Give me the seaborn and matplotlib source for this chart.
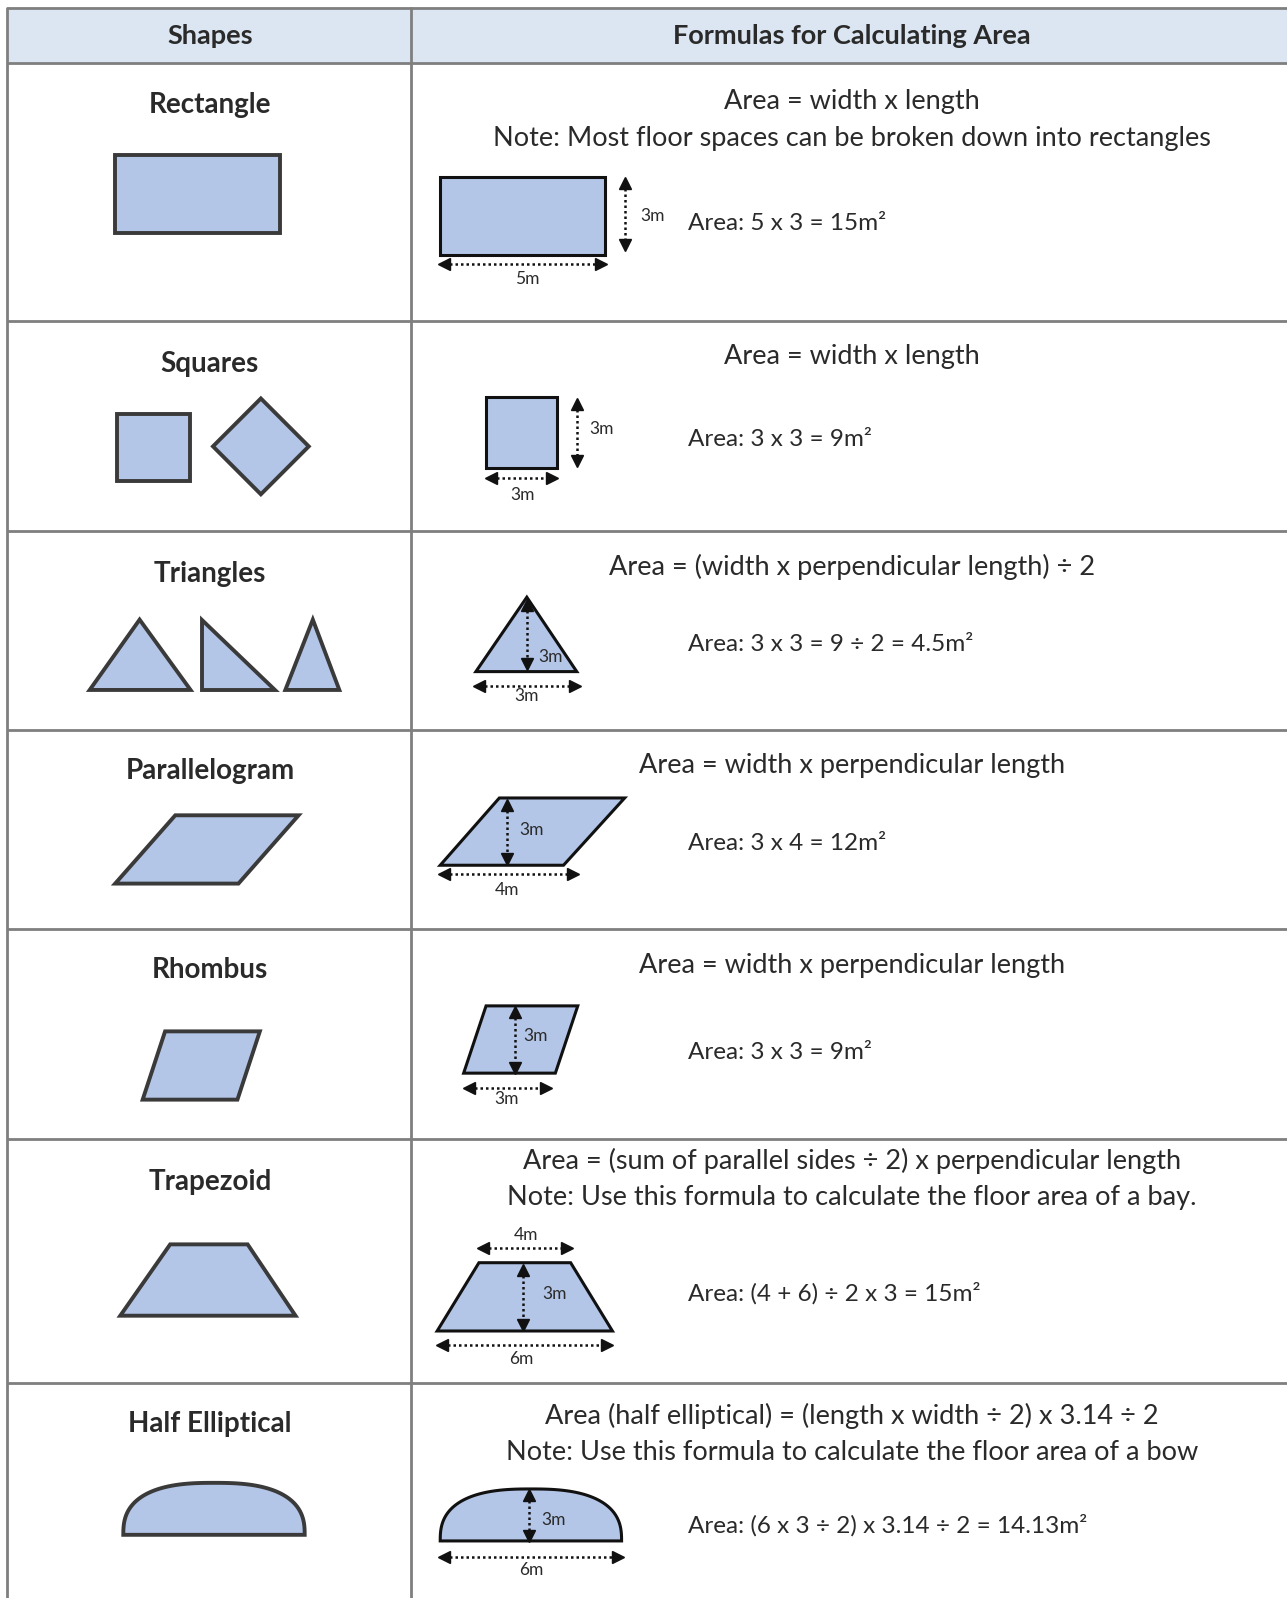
import numpy as np
import matplotlib
matplotlib.use("Agg")
import matplotlib.pyplot as plt
from matplotlib.patches import Polygon, Rectangle
import seaborn as sns

# ---------------- data ----------------
header = ["Shapes", "Formulas for Calculating Area"]
shapes = ["Rectangle", "Squares", "Triangles", "Parallelogram", "Rhombus",
          "Trapezoid", "Half Elliptical"]
formulas = [
    "Area = width x length",
    "Area = width x length",
    "Area = (width x perpendicular length) \u00f7 2",
    "Area = width x perpendicular length",
    "Area = width x perpendicular length",
    "Area = (sum of parallel sides \u00f7 2) x perpendicular length",
    "Area (half elliptical) = (length x width \u00f7 2) x 3.14 \u00f7 2",
]
notes = [
    "Note: Most floor spaces can be broken down into rectangles",
    "", "", "", "",
    "Note: Use this formula to calculate the floor area of a bay.",
    "Note: Use this formula to calculate the floor area of a bow",
]
examples = [
    "Area: 5 x 3 = 15m\u00b2",
    "Area: 3 x 3 = 9m\u00b2",
    "Area: 3 x 3 = 9 \u00f7 2 = 4.5m\u00b2",
    "Area: 3 x 4 = 12m\u00b2",
    "Area: 3 x 3 = 9m\u00b2",
    "Area: (4 + 6) \u00f7 2 x 3 = 15m\u00b2",
    "Area: (6 x 3 \u00f7 2) x 3.14 \u00f7 2 = 14.13m\u00b2",
]
width_labels = ["5m", "3m", "3m", "4m", "3m", "6m", "6m"]
height_labels = ["3m", "3m", "3m", "3m", "3m", "3m", "3m"]
top_labels = ["", "", "", "", "", "4m", ""]

# ---------------- style ----------------
sns.set_theme(style="white")
plt.rcParams['font.family'] = ['Lato', 'DejaVu Sans']

FILL = "#b4c6e7"
EDGE_L = "#3a3a3a"
EDGE_R = "#111111"
GRID = "#7f7f7f"
HEAD = "#dce6f2"
TXT = "#2a2a2a"

fig = plt.figure(figsize=(12.87, 15.98), dpi=100)
ax = fig.add_axes([0, 0, 1, 1])
ax.set_xlim(0, 1263)
ax.set_ylim(1568, 0)
ax.axis("off")

# table layout
L, R, T, HB, DIV = 7, 1263, 8, 62, 403
row_lines = [315, 521, 716, 912, 1118, 1357]
ax.add_patch(Rectangle((L, T), R - L, HB - T, facecolor=HEAD, edgecolor="none", zorder=0))
for y in [T, HB] + row_lines:
    ax.plot([L, R], [y, y], color=GRID, lw=2, zorder=1, solid_capstyle="butt")
ax.plot([L, L], [T, 1568], color=GRID, lw=2, zorder=1)
ax.plot([DIV, DIV], [T, 1568], color=GRID, lw=2, zorder=1)

ax.text(206, 35, header[0], ha="center", va="center", fontsize=19.5, fontweight="bold", color=TXT)
ax.text(836, 35, header[1], ha="center", va="center", fontsize=19.5, fontweight="bold", color=TXT)

title_y = [103, 357, 563, 757, 952, 1160, 1397]
form_y = [100, 350, 556, 751, 947, 1139, 1389]
note_y = [136, None, None, None, None, 1175, 1425]
ex_y = [219, 431, 632, 828, 1033, 1269, 1497]

for i in range(len(shapes)):
    ax.text(206, title_y[i], shapes[i], ha="center", va="center", fontsize=20,
            fontweight="bold", color=TXT)
    ax.text(836, form_y[i], formulas[i], ha="center", va="center", fontsize=19.5, color=TXT)
    if notes[i]:
        ax.text(836, note_y[i], notes[i], ha="center", va="center", fontsize=19.5, color=TXT)
    ax.text(675, ex_y[i], examples[i], ha="left", va="center", fontsize=17.5, color=TXT)


def poly(pts, left=True):
    ax.add_patch(Polygon(pts, closed=True, facecolor=FILL,
                         edgecolor=EDGE_L if left else EDGE_R,
                         lw=2.8 if left else 2.2, joinstyle="miter", zorder=3))


def dim(x0, y0, x1, y1, label, lx, ly, size=12.5):
    ax.plot([x0, x1], [y0, y1], color="#111111", lw=1.8, ls=(0, (1, 1.2)), zorder=4)
    if y0 == y1:
        ax.plot([x0], [y0], marker="<", color="#111111", ms=8, zorder=5)
        ax.plot([x1], [y1], marker=">", color="#111111", ms=8, zorder=5)
    else:
        ax.plot([x0], [y0], marker="^", color="#111111", ms=8, zorder=5)
        ax.plot([x1], [y1], marker="v", color="#111111", ms=8, zorder=5)
    ax.text(lx, ly, label, ha="center", va="center", fontsize=size, color=TXT, zorder=6)


# --- Rectangle ---
poly([(113, 152), (275, 152), (275, 229), (113, 229)])
poly([(432, 174), (594, 174), (594, 250), (432, 250)], left=False)
dim(613, 180, 613, 240, height_labels[0], 640, 212)
dim(436, 259, 590, 259, width_labels[0], 517, 274)

# --- Squares ---
poly([(115, 406), (186, 406), (186, 472), (115, 472)])
poly([(256, 391), (303, 438), (256, 485), (209, 438)])
poly([(477, 390), (547, 390), (547, 459), (477, 459)], left=False)
dim(566, 396, 566, 452, height_labels[1], 590, 421)
dim(482, 469, 542, 469, width_labels[1], 513, 486)

# --- Triangles ---
poly([(88, 677), (137, 608), (187, 677)])
poly([(198, 608), (198, 677), (270, 677)])
poly([(280, 677), (307, 608), (333, 677)])
poly([(467, 659), (517, 586), (566, 659)], left=False)
dim(517, 594, 517, 652, height_labels[2], 540, 645)
dim(470, 673, 564, 673, width_labels[2], 517, 683)

# --- Parallelogram ---
poly([(113, 867), (172, 800), (293, 800), (234, 867)])
poly([(432, 849), (490, 783), (613, 783), (553, 849)], left=False)
dim(498, 790, 498, 843, height_labels[3], 522, 814)
dim(436, 858, 562, 858, width_labels[3], 498, 873)

# --- Rhombus ---
poly([(140, 1079), (162, 1012), (255, 1012), (233, 1079)])
poly([(455, 1053), (477, 987), (567, 987), (545, 1053)], left=False)
dim(505, 993, 505, 1048, height_labels[4], 526, 1017)
dim(460, 1068, 536, 1068, width_labels[4], 497, 1078)

# --- Trapezoid ---
poly([(118, 1291), (167, 1221), (243, 1221), (290, 1291)])
poly([(429, 1306), (470, 1239), (560, 1239), (601, 1306)], left=False)
dim(474, 1225, 556, 1225, top_labels[5], 516, 1212)
dim(513, 1246, 513, 1300, height_labels[5], 544, 1270)
dim(434, 1320, 596, 1320, width_labels[5], 512, 1333)


# --- Half Elliptical ---
def dome(cx, base, a, b, n=2.6, k=80):
    t = np.linspace(0, np.pi, k)
    c, s = np.cos(t), np.sin(t)
    xs = cx + a * np.sign(c) * np.abs(c) ** (2 / n)
    ys = base - b * np.abs(s) ** (2 / n)
    return np.column_stack([xs, ys])


poly(dome(210, 1506, 89, 51))
poly(dome(521, 1512, 89, 51), left=False)
dim(519, 1467, 519, 1507, height_labels[6], 543, 1491)
dim(436, 1528, 606, 1528, width_labels[6], 521, 1541)

fig.savefig("out.png", dpi=100, facecolor="white")
